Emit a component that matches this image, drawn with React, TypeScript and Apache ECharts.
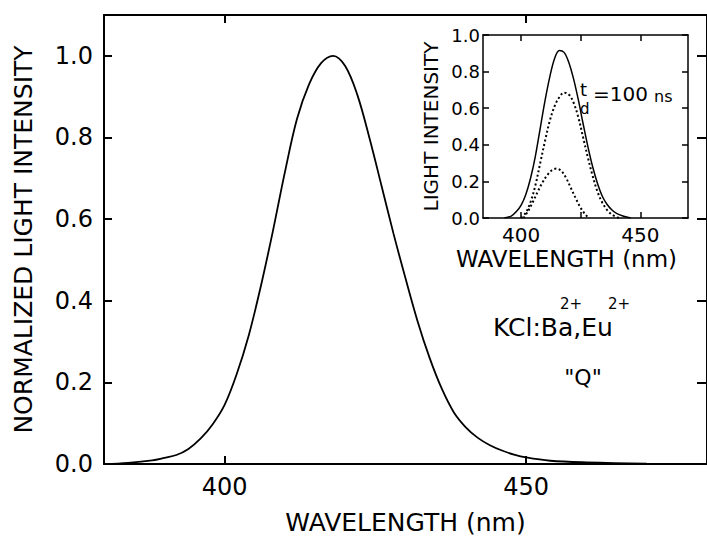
import React, { useEffect, useRef } from "react";
import * as echarts from "echarts";

// Main spectrum (normalized)
const mainWavelength = [380, 384, 388, 390, 392, 394, 396, 398, 400, 402, 404, 406, 408, 410, 412, 414, 416, 418, 420, 422, 424, 426, 428, 430, 432, 434, 436, 438, 440, 442, 444, 446, 448, 450, 454, 460, 470, 480];
const mainIntensity = [0.0, 0.003, 0.009, 0.015, 0.022, 0.037, 0.062, 0.097, 0.145, 0.22, 0.315, 0.435, 0.57, 0.715, 0.845, 0.93, 0.982, 1.0, 0.975, 0.905, 0.8, 0.683, 0.565, 0.455, 0.35, 0.26, 0.185, 0.127, 0.09, 0.064, 0.046, 0.033, 0.023, 0.016, 0.008, 0.004, 0.001, 0.0];

// Inset: solid curve
const insetSolidWavelength = [393, 396, 398, 400, 402, 404, 406, 408, 410, 412, 414, 416, 418, 420, 422, 424, 426, 428, 430, 432, 434, 436, 438, 440, 443, 446];
const insetSolidIntensity = [0.0, 0.012, 0.035, 0.07, 0.13, 0.22, 0.34, 0.49, 0.64, 0.77, 0.87, 0.915, 0.905, 0.85, 0.76, 0.645, 0.515, 0.39, 0.28, 0.19, 0.12, 0.075, 0.045, 0.025, 0.01, 0.0];

// Inset: upper dotted curve
const insetDot1Wavelength = [400, 402, 404, 406, 408, 410, 412, 414, 416, 418, 420, 422, 424, 426, 428, 430, 432, 434, 436, 438, 441];
const insetDot1Intensity = [0.0, 0.03, 0.09, 0.18, 0.3, 0.42, 0.53, 0.61, 0.66, 0.685, 0.675, 0.63, 0.55, 0.44, 0.33, 0.23, 0.145, 0.085, 0.045, 0.02, 0.0];

// Inset: lower dotted curve
const insetDot2Wavelength = [401, 403, 405, 407, 409, 411, 413, 415, 417, 419, 421, 423, 425, 427, 428.5];
const insetDot2Intensity = [0.0, 0.04, 0.09, 0.145, 0.195, 0.235, 0.262, 0.27, 0.255, 0.215, 0.16, 0.105, 0.055, 0.018, 0.0];

const mainXTicks = [400, 450];
const mainYTicks = [0, 0.2, 0.4, 0.6, 0.8, 1.0];
const insetXTicks = [400, 425, 450];
const insetXLabels = [400, 450];
const insetYTicks = [0, 0.2, 0.4, 0.6, 0.8, 1.0];

const FONT = "DejaVu Sans";

const zip = (xs: number[], ys: number[]) => xs.map((x, i) => [x, ys[i]]);

export default function App() {
  const ref = useRef<HTMLDivElement>(null);
  useEffect(() => {
    if (!ref.current) return;
    const chart = echarts.init(ref.current, null, { renderer: "svg" });
    const black = "#000";
    const line = (w: number) => ({ show: true, onZero: false, lineStyle: { color: black, width: w } });
    const tick = (vals: number[], w: number, len: number) => ({
      show: true,
      inside: true,
      length: len,
      customValues: vals,
      lineStyle: { color: black, width: w },
    });
    const noLabel = { show: false };
    const option: any = {
      animation: false,
      backgroundColor: "#fff",
      grid: [
        { left: 104, top: 15, width: 606, height: 456.5 },
        { left: 483, top: 35, width: 205, height: 183 },
      ],
      xAxis: [
        {
          type: "value", gridIndex: 0, position: "bottom", min: 380, max: 480,
          name: "WAVELENGTH (nm)", nameLocation: "middle", nameGap: 46,
          nameTextStyle: { fontFamily: FONT, fontSize: 25, color: black },
          axisLine: line(2), axisTick: tick(mainXTicks, 2, 8),
          axisLabel: { show: true, customValues: mainXTicks, margin: 11, fontFamily: FONT, fontSize: 24, color: black },
          splitLine: { show: false },
        },
        {
          type: "value", gridIndex: 0, position: "top", min: 380, max: 480,
          axisLine: line(2), axisTick: tick(mainXTicks, 2, 8), axisLabel: noLabel, splitLine: { show: false },
        },
        {
          type: "value", gridIndex: 1, position: "bottom", min: 384, max: 470,
          name: "WAVELENGTH (nm)", nameLocation: "middle", nameGap: 29,
          nameTextStyle: { fontFamily: FONT, fontSize: 23, color: black, padding: [0, 38, 0, 0] },
          axisLine: line(1.5), axisTick: tick(insetXTicks, 1.5, 6),
          axisLabel: { show: true, customValues: insetXLabels, margin: 7, fontFamily: FONT, fontSize: 20, color: black },
          splitLine: { show: false },
        },
        {
          type: "value", gridIndex: 1, position: "top", min: 384, max: 470,
          axisLine: line(1.5), axisTick: tick(insetXTicks, 1.5, 6), axisLabel: noLabel, splitLine: { show: false },
        },
      ],
      yAxis: [
        {
          type: "value", gridIndex: 0, position: "left", min: 0, max: 1.1,
          name: "NORMALIZED LIGHT INTENSITY", nameLocation: "middle", nameGap: 68, nameRotate: 90,
          nameTextStyle: { fontFamily: FONT, fontSize: 25, color: black },
          axisLine: line(2), axisTick: tick(mainYTicks, 2, 8),
          axisLabel: { show: true, customValues: mainYTicks, margin: 11, fontFamily: FONT, fontSize: 24, color: black, formatter: (v: number) => v.toFixed(1) },
          splitLine: { show: false },
        },
        {
          type: "value", gridIndex: 0, position: "right", min: 0, max: 1.1,
          axisLine: line(2), axisTick: tick(mainYTicks, 2, 10), axisLabel: noLabel, splitLine: { show: false },
        },
        {
          type: "value", gridIndex: 1, position: "left", min: 0, max: 1,
          name: "LIGHT INTENSITY", nameLocation: "middle", nameGap: 42, nameRotate: 90,
          nameTextStyle: { fontFamily: FONT, fontSize: 20, color: black },
          axisLine: line(1.5), axisTick: tick(insetYTicks, 1.5, 6),
          axisLabel: { show: true, customValues: insetYTicks, margin: 3, fontFamily: FONT, fontSize: 18, color: black, formatter: (v: number) => v.toFixed(1) },
          splitLine: { show: false },
        },
        {
          type: "value", gridIndex: 1, position: "right", min: 0, max: 1,
          axisLine: line(1.5), axisTick: tick(insetYTicks, 1.5, 6), axisLabel: noLabel, splitLine: { show: false },
        },
      ],
      series: [
        {
          type: "line", xAxisIndex: 0, yAxisIndex: 0, data: zip(mainWavelength, mainIntensity),
          showSymbol: false, smooth: 0.35,
          lineStyle: { color: black, width: 1.8 },
        },
        {
          type: "line", xAxisIndex: 2, yAxisIndex: 2, data: zip(insetSolidWavelength, insetSolidIntensity),
          showSymbol: false, smooth: 0.35,
          lineStyle: { color: black, width: 1.5 },
        },
        {
          type: "line", xAxisIndex: 2, yAxisIndex: 2, data: zip(insetDot1Wavelength, insetDot1Intensity),
          showSymbol: false, smooth: 0.35,
          lineStyle: { color: black, width: 2, type: [2, 2.5] },
        },
        {
          type: "line", xAxisIndex: 2, yAxisIndex: 2, data: zip(insetDot2Wavelength, insetDot2Intensity),
          showSymbol: false, smooth: 0.35,
          lineStyle: { color: black, width: 2, type: [2, 2.5] },
        },
      ],
      graphic: [
        { type: "text", x: 493, y: 327, style: { text: "KCl:Ba,Eu", fontFamily: FONT, fontSize: 25, fill: black, align: "left", verticalAlign: "middle" } },
        { type: "text", x: 571, y: 304, style: { text: "2+", fontFamily: FONT, fontSize: 15, fill: black, align: "center", verticalAlign: "middle" } },
        { type: "text", x: 619, y: 304, style: { text: "2+", fontFamily: FONT, fontSize: 15, fill: black, align: "center", verticalAlign: "middle" } },
        { type: "text", x: 583, y: 377, style: { text: "\"Q\"", fontFamily: FONT, fontSize: 22, fill: black, align: "center", verticalAlign: "middle" } },
        { type: "text", x: 580, y: 89, style: { text: "t", fontFamily: FONT, fontSize: 18, fill: black, align: "left", verticalAlign: "middle" } },
        { type: "text", x: 580, y: 109, style: { text: "d", fontFamily: FONT, fontSize: 15, fill: black, align: "left", verticalAlign: "middle" } },
        { type: "text", x: 593, y: 94, style: { text: "=100", fontFamily: FONT, fontSize: 20, fill: black, align: "left", verticalAlign: "middle" } },
        { type: "text", x: 654, y: 96, style: { text: "ns", fontFamily: FONT, fontSize: 16, fill: black, align: "left", verticalAlign: "middle" } },
      ],
    };
    chart.setOption(option);
    return () => chart.dispose();
  }, []);
  return <div ref={ref} style={{ position: "absolute", left: 0, top: 0, width: 707, height: 540 }} />;
}
